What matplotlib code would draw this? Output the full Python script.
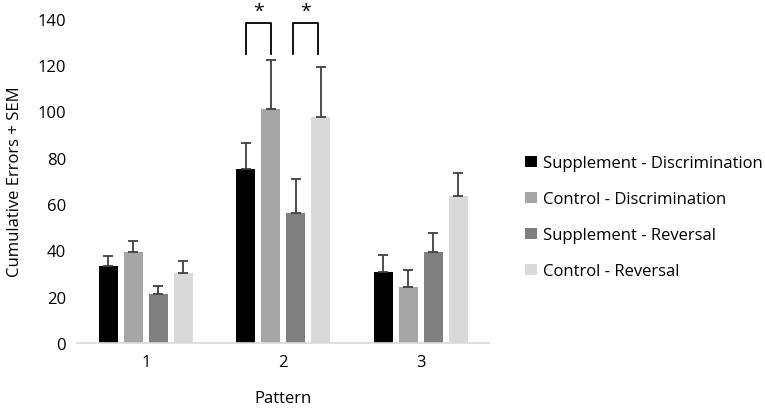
import matplotlib.pyplot as plt
import numpy as np

plt.rcParams['font.family'] = ['Open Sans', 'DejaVu Sans']

patterns = ["1", "2", "3"]
series = ["Supplement - Discrimination", "Control - Discrimination",
          "Supplement - Reversal", "Control - Reversal"]
means = [[33.3, 74.9, 30.8],
         [39.1, 100.8, 24.0],
         [21.0, 56.2, 39.4],
         [30.2, 97.4, 63.6]]
sems = [[4.1, 11.4, 7.0],
        [4.9, 21.2, 7.6],
        [3.7, 14.5, 8.1],
        [5.3, 21.8, 9.7]]
colors = ["#000000", "#a5a5a5", "#7f7f7f", "#d9d9d9"]

fig = plt.figure(figsize=(7.65, 4.1), dpi=100)
ax = fig.add_axes([0.1007, 0.161, 0.539, 0.791])

x = np.arange(1, len(patterns) + 1)
step = 0.182
width = 0.139
for i in range(len(series)):
    pos = x + (i - 1.5) * step
    ax.bar(pos, means[i], width, color=colors[i], label=series[i], zorder=2)
    ax.errorbar(pos, means[i], yerr=[np.zeros(3), sems[i]], fmt="none",
                ecolor="#404040", elinewidth=1.3, capsize=3.5, capthick=1.3, zorder=3)

# significance brackets in pattern 2
def bracket(x0, x1, ylow, ytop):
    ax.plot([x0, x0, x1, x1], [ylow, ytop, ytop, ylow], color="black",
            lw=1.3, clip_on=False, zorder=4)
    ax.text((x0 + x1) / 2, ytop + 1.5, "*", ha="center", va="bottom",
            fontsize=14, clip_on=False)

bracket(2 - 1.5 * step, 2 - 0.5 * step + 0.005, 124.7, 138)
bracket(2 + 0.5 * step - 0.02, 2 + 1.5 * step - 0.02, 124.7, 138)

ax.set_xlim(0.5, 3.5)
ax.set_ylim(0, 140)
ax.set_yticks(np.arange(0, 141, 20))
ax.set_xticks(x)
ax.set_xticklabels(patterns)
ax.tick_params(length=0, labelsize=12, colors="black", pad=8)
for s in ["top", "right", "left"]:
    ax.spines[s].set_visible(False)
ax.spines["bottom"].set_color("#d9d9d9")
ax.spines["bottom"].set_linewidth(1.2)
ax.set_ylabel("Cumulative Errors + SEM", fontsize=12, color="black", labelpad=10)
ax.set_xlabel("Pattern", fontsize=12, color="black", labelpad=14)

leg = ax.legend(loc="center left", bbox_to_anchor=(1.05, 0.387), frameon=False,
                fontsize=12, handlelength=0.7, handleheight=0.7, handletextpad=0.4,
                labelspacing=1.2, labelcolor="black")

fig.savefig("out.png", dpi=100)
